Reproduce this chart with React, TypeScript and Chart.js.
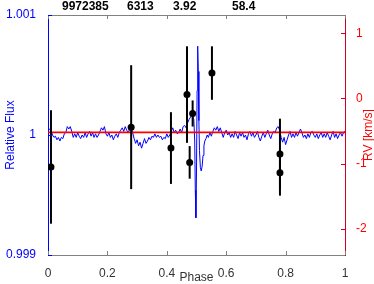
import React, { useEffect, useRef } from "react";
import { Chart, registerables } from "chart.js";

Chart.register(...registerables);

const phaseTicks = [0, 0.2, 0.4, 0.6, 0.8, 1];
const fluxTicks = [0.999, 1, 1.001];
const rvTicks = [-2, -1, 0, 1];
const headerLabels = ["9972385", "6313", "3.92", "58.4"];

const lcPhase = [
  0, 0.005, 0.01, 0.015, 0.02, 0.025, 0.03, 0.035, 0.04, 0.045,
  0.05, 0.055, 0.06, 0.065, 0.07, 0.075, 0.08, 0.085, 0.09, 0.095,
  0.1, 0.105, 0.11, 0.115, 0.12, 0.125, 0.13, 0.135, 0.14, 0.145,
  0.15, 0.155, 0.16, 0.165, 0.17, 0.175, 0.18, 0.185, 0.19, 0.195,
  0.2, 0.205, 0.21, 0.215, 0.22, 0.225, 0.23, 0.235, 0.24, 0.245,
  0.25, 0.255, 0.26, 0.265, 0.27, 0.275, 0.28, 0.285, 0.29, 0.295,
  0.3, 0.305, 0.31, 0.315, 0.32, 0.325, 0.33, 0.335, 0.34, 0.345,
  0.35, 0.355, 0.36, 0.365, 0.37, 0.375, 0.38, 0.385, 0.39, 0.395,
  0.4, 0.405, 0.41, 0.415, 0.42, 0.425, 0.43, 0.435, 0.44, 0.445,
  0.45, 0.455, 0.46, 0.465, 0.47, 0.475, 0.48, 0.485,
  0.488, 0.491, 0.494, 0.496, 0.498, 0.5, 0.502, 0.504, 0.506, 0.508,
  0.51, 0.513, 0.516, 0.519, 0.522, 0.525, 0.528, 0.532, 0.536, 0.54,
  0.545, 0.55, 0.555, 0.56, 0.565, 0.57, 0.575, 0.58, 0.585, 0.59,
  0.595, 0.6, 0.605, 0.61, 0.615, 0.62, 0.625, 0.63, 0.635, 0.64,
  0.645, 0.65, 0.655, 0.66, 0.665, 0.67, 0.675, 0.68, 0.685, 0.69,
  0.695, 0.7, 0.705, 0.71, 0.715, 0.72, 0.725, 0.73, 0.735, 0.74,
  0.745, 0.75, 0.755, 0.76, 0.765, 0.77, 0.775, 0.78, 0.785, 0.79,
  0.795, 0.8, 0.805, 0.81, 0.815, 0.82, 0.825, 0.83, 0.835, 0.84,
  0.845, 0.85, 0.855, 0.86, 0.865, 0.87, 0.875, 0.88, 0.885, 0.89,
  0.895, 0.9, 0.905, 0.91, 0.915, 0.92, 0.925, 0.93, 0.935, 0.94,
  0.945, 0.95, 0.955, 0.96, 0.965, 0.97, 0.975, 0.98, 0.985, 0.99,
  0.995, 1.0,
];

const lcFlux = [
  1.00003, 1.00005, 1.00004, 1.0, 0.99998, 0.99999, 0.99996, 0.99998, 0.99995, 0.99998,
  0.99997, 1.00001, 1.00002, 1.00007, 1.00005, 1.00007, 1.00003, 0.99998, 1.00001, 0.99998,
  1.00002, 0.99999, 0.99997, 1.0, 0.99998, 1.00002, 0.99998, 1.00001, 1.00003, 0.99999,
  1.00002, 0.99998, 1.00001, 0.99998, 1.0, 1.00003, 1.00006, 1.00004, 1.00007, 1.00001,
  0.99999, 1.00002, 0.99998, 1.0, 0.99996, 0.99999, 1.00001, 0.99998, 1.00002, 1.00004,
  1.00006, 1.00003, 1.00007, 1.00004, 1.00002, 1.00005, 1.00007, 1.00002, 0.99997, 0.99993,
  0.99996, 0.99991, 0.99994, 0.99989, 0.99993, 0.99997, 0.99993, 0.99995, 0.99998, 0.99996,
  0.99999, 0.99998, 1.00001, 0.99998, 1.0, 0.99998, 0.99999, 0.99996, 0.99998, 0.99997,
  1.00001, 0.99998, 1.0, 1.00003, 1.00006, 1.00002, 1.00004, 1.00001, 1.00002, 1.00005,
  1.00002, 1.00007, 1.00008, 1.00006, 1.0001, 1.00013, 1.00015, 1.00017,
  1.00017, 1.00013, 0.99995, 0.99954, 0.99931, 0.9997, 1.00037, 1.00074, 1.00053, 1.00012,
  0.99987, 0.99973, 0.9997, 0.99974, 0.99983, 0.99991, 0.99995, 0.99997, 1.0, 0.99998,
  1.00002, 0.99999, 1.00003, 1.00006, 1.00004, 1.00007, 1.00003, 1.00006, 1.00002, 0.99998,
  1.00002, 1.00004, 1.0, 1.00002, 0.99998, 1.00001, 0.99998, 1.00003, 1.0, 0.99997,
  1.00002, 0.99999, 1.00002, 0.99998, 1.0, 0.99996, 1.00001, 1.00003, 0.99999, 1.00002,
  0.99998, 1.0, 1.00003, 0.99998, 0.99995, 0.99999, 1.00002, 0.99998, 1.00001, 1.00004,
  1.0, 0.99997, 1.00001, 1.00003, 1.00002, 1.00006, 1.00007, 1.00004, 0.99998, 0.99994,
  0.99998, 0.99992, 0.99996, 1.0, 1.00003, 0.99998, 1.00001, 0.99998, 1.00002, 0.99999,
  1.00002, 1.00005, 1.00002, 0.99998, 1.0, 0.99997, 1.00001, 0.99998, 1.00002, 1.00003,
  1.0, 0.99998, 1.00001, 0.99997, 1.0, 1.00002, 0.99998, 1.00001, 0.99998, 1.00002,
  0.99999, 0.99996, 1.0, 1.00003, 0.99998, 1.00001, 0.99997, 1.0, 1.00002, 0.99999,
  1.00002, 1.00003,
];

const rvPhase = [0.01, 0.28, 0.414, 0.468, 0.477, 0.487, 0.552, 0.781, 0.781];
const rvValue = [-1.05, -0.44, -0.76, 0.06, -0.98, -0.23, 0.39, -0.85, -1.14];
const rvError = [0.87, 0.95, 0.55, 0.74, 0.25, 0.2, 0.41, 0.54, 0.35];
const systemicRV = -0.52;

const FONT = '"Liberation Sans", Arial, Helvetica, sans-serif';

const framePlugin = {
  id: "frame",
  afterDatasetsDraw(chart: any) {
    const { ctx, scales } = chart;
    const x = scales.x;
    const y1 = scales.y1;
    ctx.save();
    ctx.strokeStyle = "#000000";
    ctx.lineWidth = 2;
    rvPhase.forEach((p, i) => {
      const px = x.getPixelForValue(p);
      const t = y1.getPixelForValue(rvValue[i] + rvError[i]);
      const b = y1.getPixelForValue(rvValue[i] - rvError[i]);
      ctx.beginPath();
      ctx.moveTo(px, t);
      ctx.lineTo(px, b);
      ctx.stroke();
    });
    ctx.restore();
  },
  afterDraw(chart: any) {
    const { ctx, chartArea: ca, scales } = chart;
    const x = scales.x;
    const y = scales.y;
    const y1 = scales.y1;
    ctx.save();
    ctx.strokeStyle = "#808080";
    ctx.lineWidth = 1;
    ctx.beginPath();
    ctx.moveTo(ca.left, ca.top + 0.5);
    ctx.lineTo(ca.right, ca.top + 0.5);
    ctx.stroke();
    const tl = 4;
    x.ticks.forEach((t: any) => {
      const px = Math.round(x.getPixelForValue(t.value)) + 0.5;
      ctx.beginPath();
      ctx.moveTo(px, ca.bottom);
      ctx.lineTo(px, ca.bottom - tl);
      ctx.moveTo(px, ca.top);
      ctx.lineTo(px, ca.top + tl);
      ctx.stroke();
    });
    ctx.strokeStyle = "#0000ff";
    y.ticks.forEach((t: any) => {
      const py = Math.round(y.getPixelForValue(t.value)) + 0.5;
      ctx.beginPath();
      ctx.moveTo(ca.left, py);
      ctx.lineTo(ca.left + tl, py);
      ctx.stroke();
    });
    ctx.strokeStyle = "#d00020";
    y1.ticks.forEach((t: any) => {
      const py = Math.round(y1.getPixelForValue(t.value)) + 0.5;
      ctx.beginPath();
      ctx.moveTo(ca.right, py);
      ctx.lineTo(ca.right - tl, py);
      ctx.stroke();
    });
    ctx.font = `12px ${FONT}`;
    ctx.textAlign = "center";
    ctx.textBaseline = "middle";
    const midY = (ca.top + ca.bottom) / 2;
    ctx.fillStyle = "#0000ff";
    ctx.save();
    ctx.translate(11, midY);
    ctx.rotate(-Math.PI / 2);
    ctx.fillText("Relative Flux", 0, 0);
    ctx.restore();
    ctx.fillStyle = "#ff0000";
    ctx.save();
    ctx.translate(368.5, midY);
    ctx.rotate(-Math.PI / 2);
    ctx.fillText("RV [km/s]", 0, 0);
    ctx.restore();
    ctx.fillStyle = "#333333";
    ctx.fillText("Phase", (ca.left + ca.right) / 2, 277.5);
    ctx.font = `bold 12px ${FONT}`;
    ctx.fillStyle = "#000000";
    ctx.textAlign = "left";
    const hx = [62, 127, 173, 232];
    headerLabels.forEach((s, i) => ctx.fillText(s, hx[i], 7));
    ctx.restore();
  },
};

export default function App() {
  const ref = useRef<HTMLCanvasElement | null>(null);
  useEffect(() => {
    document.body.style.margin = "0";
    const canvas = ref.current;
    if (!canvas) return;
    const chart = new Chart(canvas, {
      type: "scatter",
      data: {
        datasets: [
          {
            label: "RV",
            type: "scatter",
            data: rvPhase.map((p, i) => ({ x: p, y: rvValue[i] })),
            yAxisID: "y1",
            pointRadius: 3.5,
            pointBackgroundColor: "#000000",
            pointBorderColor: "#000000",
            pointBorderWidth: 0,
            order: 1,
          },
          {
            label: "systemic",
            type: "line",
            data: [
              { x: 0, y: systemicRV },
              { x: 1, y: systemicRV },
            ],
            yAxisID: "y1",
            borderColor: "#ff0000",
            borderWidth: 1.6,
            pointRadius: 0,
            order: 2,
          },
          {
            label: "flux",
            type: "line",
            data: lcPhase.map((p, i) => ({ x: p, y: lcFlux[i] })),
            yAxisID: "y",
            borderColor: "#0000ff",
            borderWidth: 1,
            pointRadius: 0,
            tension: 0,
            order: 3,
          },
        ],
      } as any,
      options: {
        responsive: false,
        maintainAspectRatio: false,
        animation: false,
        devicePixelRatio: 1,
        layout: { padding: { top: 15, left: 0, right: 0, bottom: 0 } },
        plugins: {
          legend: { display: false },
          tooltip: { enabled: false },
          title: { display: false },
        },
        scales: {
          x: {
            type: "linear",
            position: "bottom",
            min: 0,
            max: 1,
            grid: { display: false },
            border: { display: true, color: "#808080", width: 1 },
            ticks: {
              font: { family: FONT, size: 12 },
              color: "#333333",
              padding: 3,
              autoSkip: false,
              maxRotation: 0,
              callback: (v: any) => String(v),
            },
            afterBuildTicks: (s: any) => {
              s.ticks = phaseTicks.map((v) => ({ value: v }));
            },
            afterFit: (s: any) => {
              s.height = 29;
            },
          },
          y: {
            type: "linear",
            position: "left",
            min: 0.999,
            max: 1.001,
            grid: { display: false },
            border: { display: true, color: "#0000ff", width: 1 },
            ticks: {
              font: { family: FONT, size: 12 },
              color: "#0000ff",
              padding: 4,
              callback: (v: any) => String(Number(Number(v).toFixed(3))),
            },
            afterBuildTicks: (s: any) => {
              s.ticks = fluxTicks.map((v) => ({ value: v }));
            },
            afterFit: (s: any) => {
              s.width = 48;
            },
          },
          y1: {
            type: "linear",
            position: "right",
            min: -2.4,
            max: 1.28,
            grid: { display: false },
            border: { display: true, color: "#d00020", width: 1 },
            ticks: {
              font: { family: FONT, size: 12 },
              color: "#ff0000",
              padding: 3,
              callback: (v: any) => String(v),
            },
            afterBuildTicks: (s: any) => {
              s.ticks = rvTicks.map((v) => ({ value: v }));
            },
            afterFit: (s: any) => {
              s.width = 29;
            },
          },
        },
      } as any,
      plugins: [framePlugin],
    });
    return () => chart.destroy();
  }, []);
  return (
    <canvas
      ref={ref}
      width={374}
      height={284}
      style={{ display: "block", width: 374, height: 284 }}
    />
  );
}
